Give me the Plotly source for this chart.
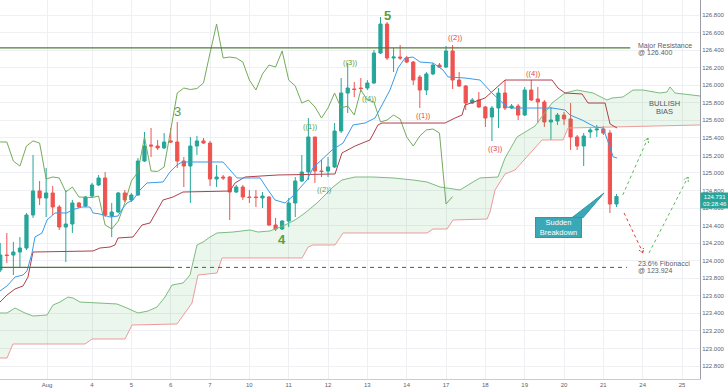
import math
import plotly.graph_objects as go

# ---------------- data (EUR/JPY 4H) ----------------
bar_index = list(range(-8, 87))  # 6 bars per trading day, 0 = first bar of Aug 3

opens = [
    123.894, 124.065, 124.065, 124.099, 124.145, 124.521, 124.795, 124.715,
    124.772, 124.612, 124.384, 124.418, 124.658, 124.623, 124.737, 124.863,
    124.943, 124.509, 124.555, 124.772, 124.692, 124.749, 125.136, 125.319,
    125.307, 125.285, 125.365, 125.353, 125.136, 125.079, 125.307, 125.365,
    125.341, 124.931, 124.954, 124.954, 124.783, 124.840, 124.726, 124.726,
    124.715, 124.726, 124.407, 124.361, 124.452, 124.658, 124.908, 125.011,
    125.410, 125.022, 125.022, 125.068, 125.478, 125.911, 125.957, 125.968,
    125.968, 126.025, 126.367, 126.697, 126.310, 126.321, 126.310, 126.264,
    126.093, 125.945, 126.128, 126.230, 126.207, 126.390, 126.059, 125.991,
    125.797, 125.831, 125.752, 125.638, 125.740, 125.911, 125.740, 125.763,
    125.660, 125.945, 125.843, 125.809, 125.581, 125.592, 125.660, 125.615,
    125.410, 125.307, 125.467, 125.490, 125.501, 125.455, 124.646,
]
highs = [
    124.202, 124.316, 124.213, 124.270, 124.544, 125.205, 124.908, 125.057,
    124.851, 124.635, 124.806, 124.692, 124.669, 124.737, 124.886, 124.977,
    125.011, 124.658, 124.783, 124.806, 124.772, 125.170, 125.467, 125.512,
    125.376, 125.455, 125.512, 125.581, 125.182, 125.410, 125.421, 125.398,
    125.365, 125.091, 124.977, 124.965, 124.863, 124.863, 124.806, 124.806,
    124.783, 124.737, 124.487, 124.464, 124.715, 124.954, 125.205, 125.626,
    125.410, 125.148, 125.182, 125.569, 126.082, 126.253, 126.037, 126.082,
    126.059, 126.401, 126.777, 126.720, 126.424, 126.458, 126.333, 126.276,
    126.116, 126.150, 126.253, 126.253, 126.447, 126.458, 126.150, 126.002,
    125.854, 125.923, 125.763, 125.763, 125.968, 126.059, 125.786, 125.786,
    125.979, 126.059, 125.979, 125.831, 125.752, 125.683, 125.695, 125.797,
    125.433, 125.455, 125.524, 125.546, 125.535, 125.490, 124.760,
]
lows = [
    123.871, 123.974, 123.837, 123.928, 124.122, 124.487, 124.635, 124.498,
    124.521, 124.350, 123.985, 124.316, 124.601, 124.612, 124.715, 124.851,
    124.498, 124.270, 124.544, 124.669, 124.669, 124.737, 125.125, 125.182,
    125.262, 125.273, 125.341, 125.057, 124.840, 124.658, 125.205, 125.330,
    124.851, 124.840, 124.920, 124.464, 124.772, 124.692, 124.658, 124.612,
    124.601, 124.395, 124.338, 124.350, 124.384, 124.498, 124.897, 124.920,
    124.886, 124.954, 124.954, 125.057, 125.455, 125.683, 125.865, 125.923,
    125.945, 126.014, 126.356, 126.287, 126.150, 126.287, 126.253, 126.002,
    125.740, 125.888, 126.116, 126.196, 126.196, 125.957, 125.979, 125.717,
    125.786, 125.740, 125.524, 125.364, 125.512, 125.717, 125.729, 125.603,
    125.649, 125.820, 125.569, 125.524, 125.376, 125.547, 125.547, 125.262,
    125.262, 125.079, 125.398, 125.410, 125.433, 124.544, 124.612,
]
closes = [
    124.065, 124.059, 124.099, 124.145, 124.521, 124.795, 124.715, 124.772,
    124.612, 124.384, 124.418, 124.658, 124.612, 124.726, 124.863, 124.943,
    124.521, 124.555, 124.772, 124.692, 124.749, 125.136, 125.307, 125.307,
    125.285, 125.353, 125.353, 125.136, 125.079, 125.307, 125.365, 125.341,
    124.931, 124.954, 124.943, 124.783, 124.840, 124.726, 124.720, 124.720,
    124.737, 124.407, 124.361, 124.452, 124.658, 124.908, 125.011, 125.410,
    125.022, 125.017, 125.068, 125.478, 125.911, 125.968, 125.951, 125.962,
    126.025, 126.367, 126.697, 126.310, 126.321, 126.310, 126.264, 126.059,
    125.945, 126.128, 126.230, 126.207, 126.390, 126.059, 125.991, 125.797,
    125.831, 125.752, 125.626, 125.740, 125.911, 125.740, 125.763, 125.660,
    125.945, 125.831, 125.809, 125.581, 125.603, 125.660, 125.615, 125.410,
    125.307, 125.421, 125.490, 125.501, 125.455, 124.646, 124.731,
]
last_price = "124.731"
countdown = "03:28:46"

# Ichimoku lines (vertices)
tenkan_x = [-8.04, -6.97, -5.75, -4.53, -3.92, -3.16, -2.70, -1.63, -0.87, -0.11, 0.35, 2.18, 2.94, 4.47, 5.69,
            6.15, 7.22, 8.74, 9.96, 10.72, 11.33, 12.25, 13.32, 14.38, 16.83, 17.89, 18.96, 19.73, 25.98, 28.12,
            31.63, 32.84, 33.91, 35.44, 36.50, 37.73, 38.79, 39.71, 42.61, 44.29, 45.81, 47.64, 49.17, 50.23,
            51.45, 52.68, 53.74, 54.96, 56.03, 58.02, 59.54, 60.3, 62.9, 65.18, 67.01, 69.3, 70.22, 76.17, 78.15,
            78.92, 80.75, 82.73, 83.95, 85.0, 85.5, 86.1]
tenkan_y = [123.655, 123.712, 123.814, 123.837, 123.883, 124.088, 124.270, 124.316, 124.464, 124.521, 124.544,
            124.544, 124.578, 124.612, 124.612, 124.544, 124.532, 124.498, 124.509, 124.601, 124.658, 124.692,
            124.806, 124.886, 124.897, 125.011, 125.091, 125.125, 125.125, 124.943, 124.943, 124.806, 124.692,
            124.658, 124.726, 124.829, 124.920, 125.057, 125.262, 125.341, 125.547, 125.569, 125.626, 125.774,
            125.945, 126.196, 126.310, 126.321, 126.264, 126.253, 126.173, 126.094, 126.082, 126.059, 125.911,
            125.752, 125.740, 125.740, 125.717, 125.660, 125.603, 125.524, 125.512, 125.296, 125.182, 125.171]

kijun_x = [-8.04, -6.97, -5.75, -4.53, -3.77, -3.01, 6.15, 7.22, 8.74, 9.5, 9.96, 12.25, 13.62, 14.84, 16.83,
           18.35, 19.88, 27.04, 27.81, 29.34, 34.37, 43.06, 44.13, 46.12, 48.4, 49.62, 50.23, 59.85, 61.37, 62.44,
           62.9, 64.88, 65.95, 69.0, 76.17, 77.08, 78.15, 80.75, 81.66, 84.26, 85.02, 86.09]
kijun_y = [123.529, 123.609, 123.678, 123.712, 123.814, 124.099, 124.111, 124.145, 124.156, 124.179, 124.259,
           124.270, 124.407, 124.430, 124.692, 124.726, 124.783, 124.794, 124.886, 124.954, 124.977, 124.988,
           125.228, 125.307, 125.376, 125.547, 125.569, 125.569, 125.626, 125.660, 125.774, 125.831, 125.854,
           126.059, 126.059, 125.968, 125.911, 125.900, 125.797, 125.797, 125.558, 125.512]

span_a_x = [-8.04, -6.97, -5.75, -4.23, -3.0, -0.87, 0.05, 1.11, 2.33, 3.10, 4.16, 9.8, 11.33, 13.01, 14.54,
            15.91, 17.13, 18.2, 19.88, 20.95, 22.01, 22.93, 24.0, 25.06, 27.5, 30.1, 31.32, 33.15, 35.13, 36.96,
            38.49, 40.32, 41.54, 42.76, 44.13, 46.12, 48.86, 51.91, 54.96, 57.1, 59.08, 62.13, 64.11, 65.18,
            67.93, 69.0, 70.83, 73.58, 76.17, 78.15, 79.98, 82.42, 84.56, 85.32, 86.99, 88.52, 90.05, 92.64,
            93.71, 94.17, 94.93, 98.78]
span_a_y = [123.404, 123.404, 123.461, 123.404, 123.370, 123.381, 123.495, 123.529, 123.586, 123.575, 123.529,
            123.507, 123.461, 123.404, 123.427, 123.472, 123.586, 123.723, 123.746, 123.837, 124.179, 124.213,
            124.270, 124.316, 124.327, 124.350, 124.327, 124.339, 124.395, 124.464, 124.544, 124.658, 124.749,
            124.840, 124.920, 124.954, 124.954, 124.943, 124.920, 124.897, 124.840, 124.806, 124.897, 124.943,
            124.954, 125.170, 125.410, 125.535, 125.797, 125.911, 125.945, 125.911, 125.831, 125.854, 125.866,
            125.945, 125.945, 125.911, 125.923, 125.980, 125.911, 125.877]

span_b_x = [-8.04, -6.97, -6.06, 4.93, 5.99, 11.03, 12.1, 18.96, 21.25, 22.17, 25.06, 25.83, 38.03, 38.96,
            39.71, 43.06, 44.29, 57.1, 58.02, 60.15, 61.07, 66.26, 66.71, 67.48, 69.0, 70.53, 74.65, 77.85,
            78.61, 85.02, 98.78]
span_b_y = [122.891, 122.891, 123.051, 123.051, 123.108, 123.108, 123.267, 123.279, 123.518, 123.837, 123.860,
            124.031, 124.031, 124.156, 124.179, 124.179, 124.316, 124.316, 124.361, 124.361, 124.464, 124.475,
            124.555, 124.806, 124.988, 125.034, 125.376, 125.376, 125.512, 125.524, 125.547]
lagging_shift = 25

# Levels
resistance_level = 126.425
resistance_label = ["Major Resistance", "@ 126.400"]
resistance_end = 88.1
fib_level = 123.924
fib_label = ["23.6% Fibonacci", "@ 123.924"]
fib_solid_end = 17.9
fib_end = 87.6

# Projected paths (bar, price)
path_up_x, path_up_y = [86.96, 90.8], [124.749, 125.398]
path_down_x, path_down_y = [87.16, 90.05], [124.544, 124.088]
path_rebound_x, path_rebound_y = [90.96, 96.92], [124.088, 124.954]

# Wave labels: (bar, price, text)
wave_major = [(51.0, 126.800, "5", True), (18.96, 125.706, "3", False), (34.98, 124.247, "4", True)]
wave_green = [(39.4, 125.535, "((1))"), (41.4, 124.817, "((2))"), (45.4, 126.264, "((3))"), (48.4, 125.843, "((4))")]
wave_red = [(56.5, 125.660, "((1))"), (61.5, 126.549, "((2))"), (67.5, 125.284, "((3))"), (73.3, 126.128, "((4))")]

# Time axis
tick_pos = [-0.87, 6, 12, 18, 24, 30, 36, 42, 48, 54, 60, 66, 72, 78, 84, 90, 96]
tick_txt = ["Aug", "4", "5", "6", "7", "10", "11", "12", "13", "14", "17", "18", "19", "20", "21", "24", "25"]

X_RANGE = [-8.04, 98.74]
Y_RANGE = [122.652, 126.971]
PLOT_W, PLOT_H = 700, 379

FONT = "Liberation Sans, Arial, sans-serif"
UP, DOWN = "#26a69a", "#ef5350"
GREEN_TXT, RED_TXT = "#5a9e3c", "#e0463f"

fig = go.Figure()

# Cloud
fig.add_trace(go.Scatter(x=span_a_x + span_b_x[::-1], y=span_a_y + span_b_y[::-1], fill="toself",
                         fillcolor="rgba(76,175,80,0.11)", line=dict(width=0), mode="lines", hoverinfo="skip"))
fig.add_trace(go.Scatter(x=span_a_x, y=span_a_y, mode="lines", line=dict(color="#7dbb80", width=1)))
fig.add_trace(go.Scatter(x=span_b_x, y=span_b_y, mode="lines", line=dict(color="#ef9a9a", width=1)))
# Lagging span
fig.add_trace(go.Scatter(x=[b - lagging_shift for b in bar_index], y=closes, mode="lines",
                         line=dict(color="#74ab5a", width=1)))
fig.add_trace(go.Scatter(x=kijun_x, y=kijun_y, mode="lines", line=dict(color="#b0404a", width=1)))
fig.add_trace(go.Scatter(x=tenkan_x, y=tenkan_y, mode="lines", line=dict(color="#3b9be8", width=1)))

# Levels
fig.add_trace(go.Scatter(x=[X_RANGE[0], resistance_end], y=[resistance_level] * 2, mode="lines",
                         line=dict(color="#4d7d34", width=1.2)))
fig.add_trace(go.Scatter(x=[X_RANGE[0], fib_solid_end], y=[fib_level] * 2, mode="lines",
                         line=dict(color="#4d7d34", width=1.2)))
fig.add_trace(go.Scatter(x=[fib_solid_end, fib_end], y=[fib_level] * 2, mode="lines",
                         line=dict(color="#4b5e44", width=1, dash="4px,4px")))

# Candles
fig.add_trace(go.Candlestick(x=bar_index, open=opens, high=highs, low=lows, close=closes,
                             increasing=dict(line=dict(color=UP, width=1), fillcolor=UP),
                             decreasing=dict(line=dict(color=DOWN, width=1), fillcolor=DOWN),
                             whiskerwidth=0, hoverinfo="skip"))

# Projected dashed paths with open arrow heads
px_x = PLOT_W / (X_RANGE[1] - X_RANGE[0])
px_y = PLOT_H / (Y_RANGE[1] - Y_RANGE[0])


def head(xs, ys, size=5.0, ang=30.0):
    dx = (xs[1] - xs[0]) * px_x
    dy = (ys[1] - ys[0]) * px_y
    L = math.hypot(dx, dy)
    ux, uy = -dx / L, -dy / L
    hx, hy = [], []
    for s in (1, -1):
        a = math.radians(ang) * s
        rx = ux * math.cos(a) - uy * math.sin(a)
        ry = ux * math.sin(a) + uy * math.cos(a)
        hx.append(xs[1] + size * rx / px_x)
        hy.append(ys[1] + size * ry / px_y)
    return [hx[0], xs[1], hx[1]], [hy[0], ys[1], hy[1]]


for (pxs, pys, col) in [(path_up_x, path_up_y, "#5cb85c"), (path_down_x, path_down_y, "#e53935"),
                        (path_rebound_x, path_rebound_y, "#5cb85c")]:
    fig.add_trace(go.Scatter(x=pxs, y=pys, mode="lines", line=dict(color=col, width=1, dash="3px,3px")))
    hx, hy = head(pxs, pys)
    fig.add_trace(go.Scatter(x=hx, y=hy, mode="lines", line=dict(color=col, width=1, dash="2px,1px")))

ann = []
for (x, y, t, b) in wave_major:
    ann.append(dict(x=x, y=y, text=f"<b>{t}</b>" if b else t, showarrow=False,
                    font=dict(family=FONT, size=13, color=GREEN_TXT)))
for (x, y, t) in wave_green:
    ann.append(dict(x=x, y=y, text=t, showarrow=False, font=dict(family=FONT, size=7.5, color=GREEN_TXT)))
for (x, y, t) in wave_red:
    ann.append(dict(x=x, y=y, text=t, showarrow=False, font=dict(family=FONT, size=7.5, color=RED_TXT)))

LBL = "#5d606b"
ann.append(dict(x=89.0, y=126.450, text=resistance_label[0], showarrow=False, xanchor="left",
                font=dict(family=FONT, size=7, color=LBL)))
ann.append(dict(x=89.0, y=126.370, text=resistance_label[1], showarrow=False, xanchor="left",
                font=dict(family=FONT, size=7, color=LBL)))
ann.append(dict(x=89.0, y=123.970, text=fib_label[0], showarrow=False, xanchor="left",
                font=dict(family=FONT, size=7, color=LBL)))
ann.append(dict(x=89.0, y=123.888, text=fib_label[1], showarrow=False, xanchor="left",
                font=dict(family=FONT, size=7, color=LBL)))
ann.append(dict(x=93.4, y=125.797, text="BULLISH", showarrow=False,
                font=dict(family=FONT, size=7.5, color="#555a63")))
ann.append(dict(x=93.3, y=125.706, text="BIAS", showarrow=False,
                font=dict(family=FONT, size=7.5, color="#555a63")))

# Callout
ann.append(dict(x=77.16, y=124.378, text="Sudden<br>Breakdown", showarrow=False,
                font=dict(family=FONT, size=7.5, color="white"), bgcolor="#3aa8b6",
                bordercolor="#2f98a6", borderwidth=1, borderpad=1, width=43, height=17))

# Price scale labels
ann.append(dict(xref="paper", x=1.0, y=124.731, xanchor="left", text=last_price, showarrow=False,
                font=dict(family=FONT, size=6, color="white"), bgcolor=UP, width=26, height=6, borderpad=1))
ann.append(dict(xref="paper", x=1.0, y=124.646, xanchor="left", text=countdown, showarrow=False,
                font=dict(family=FONT, size=6, color="white"), bgcolor=UP, width=26, height=6, borderpad=1))

shapes = [dict(type="path", xref="x", yref="y",
               path="M 79.2 124.49 L 80.9 124.49 L 84.1 124.772 Z",
               fillcolor="#3aa8b6", line=dict(color="#2f98a6", width=1), layer="above")]

fig.update_layout(
    width=728, height=391, margin=dict(l=0, r=28, t=0, b=12),
    paper_bgcolor="white", plot_bgcolor="white", showlegend=False,
    annotations=ann, shapes=shapes, boxgap=0.3,
    font=dict(family=FONT),
    xaxis=dict(range=X_RANGE, tickvals=tick_pos, ticktext=tick_txt, showgrid=True, gridcolor="#eef0f4",
               zeroline=False, showline=True, linecolor="#c9ccd3", ticks="", rangeslider=dict(visible=False),
               tickfont=dict(family=FONT, size=6, color="#5d606b")),
    yaxis=dict(range=Y_RANGE, side="right", dtick=0.2, tick0=0, tickformat=".3f", showgrid=True,
               gridcolor="#eef0f4", zeroline=False, showline=True, linecolor="#9a9da6", ticks="",
               tickfont=dict(family=FONT, size=6, color="#5d606b")),
)

fig.write_html("out.html", config={"displayModeBar": False},
               post_script="document.body.style.margin='0';document.body.style.overflow='hidden';")
